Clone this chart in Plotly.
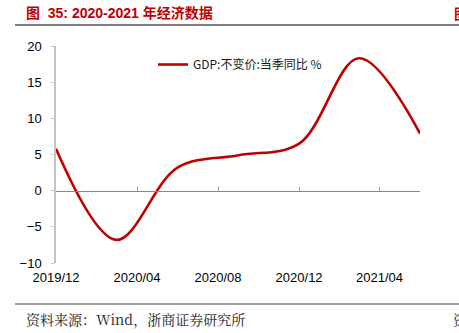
import plotly.graph_objects as go

# Quarterly real GDP growth, y/y (%)
dates = ["2019-12-01", "2020-03-01", "2020-06-01", "2020-09-01",
         "2020-12-01", "2021-03-01", "2021-06-01"]
gdp_yoy = [5.8, -6.8, 3.2, 4.9, 6.5, 18.3, 7.9]

tick_dates = ["2019-12-01", "2020-04-01", "2020-08-01", "2020-12-01", "2021-04-01"]
tick_labels = ["2019/12", "2020/04", "2020/08", "2020/12", "2021/04"]
y_ticks = [-10, -5, 0, 5, 10, 15, 20]

series_name = "GDP:不变价:当季同比 %"
title_text = "图\u00a0\u00a035: 2020-2021 年经济数据"
source_text = "资料来源：Wind，浙商证券研究所"

W, H = 459, 333
L, R, T, B = 56, 39, 46, 70
PW, PH = W - L - R, H - T - B


def px_x(px):
    return (px - L) / PW


def px_y(py):
    return (H - B - py) / PH


RED = "#C00000"
AX_FONT = dict(family="Liberation Sans, Arial, sans-serif", size=13, color="#000000")

fig = go.Figure()
fig.add_trace(go.Scatter(
    x=dates, y=gdp_yoy, mode="lines", name=series_name,
    line=dict(color=RED, width=2.6, shape="spline", smoothing=1.0),
))
# invisible trace on a second x axis that sits on the zero line
fig.add_trace(go.Scatter(x=[dates[0]], y=[None], xaxis="x2", showlegend=False,
                         hoverinfo="skip"))

fig.update_layout(
    width=W, height=H,
    margin=dict(l=L, r=R, t=T, b=B),
    paper_bgcolor="white", plot_bgcolor="white",
    showlegend=True,
    legend=dict(x=px_x(153), y=px_y(50), xanchor="left", yanchor="top",
                bgcolor="rgba(0,0,0,0)",
                font=dict(family="Noto Sans CJK SC, sans-serif", size=12, color="#1a1a1a")),
    xaxis=dict(
        type="date", range=[dates[0], dates[-1]],
        tickvals=tick_dates, ticktext=tick_labels,
        showline=False, showgrid=False, zeroline=False, ticks="",
        tickfont=AX_FONT, ticklabelstandoff=5,
    ),
    xaxis2=dict(
        type="date", range=[dates[0], dates[-1]], overlaying="x",
        anchor="free", position=(0 - y_ticks[0]) / (y_ticks[-1] - y_ticks[0]),
        tickvals=tick_dates[1:], showticklabels=False,
        showline=True, linecolor="#868686", linewidth=1.2,
        ticks="inside", ticklen=4, tickcolor="#a0a0a0", tickwidth=1,
        showgrid=False, zeroline=False,
    ),
    yaxis=dict(
        range=[y_ticks[0], y_ticks[-1]], tickvals=y_ticks,
        showline=True, linecolor="#c4c4c4", linewidth=1.5,
        ticks="outside", ticklen=3, tickcolor="#c4c4c4",
        showgrid=False, zeroline=False,
        tickfont=AX_FONT, ticklabelstandoff=7,
    ),
)

# header and footer rules
fig.add_shape(type="line", xref="paper", yref="paper",
              x0=px_x(15), x1=px_x(459), y0=px_y(25), y1=px_y(25),
              line=dict(color="#808080", width=2))
fig.add_shape(type="line", xref="paper", yref="paper",
              x0=px_x(15), x1=px_x(459), y0=px_y(304), y1=px_y(304),
              line=dict(color="#404040", width=1))

fig.add_annotation(text="<b>" + title_text + "</b>", xref="paper", yref="paper",
                   x=px_x(24), y=px_y(13), xanchor="left", yanchor="middle",
                   showarrow=False,
                   font=dict(family="Liberation Sans, Noto Sans CJK SC, sans-serif",
                             size=14, color=RED))
fig.add_annotation(text="<b>图</b>", xref="paper", yref="paper",
                   x=px_x(452), y=px_y(13), xanchor="left", yanchor="middle",
                   showarrow=False,
                   font=dict(family="Noto Sans CJK SC, sans-serif", size=14, color=RED))
fig.add_annotation(text=source_text, xref="paper", yref="paper",
                   x=px_x(24), y=px_y(319), xanchor="left", yanchor="middle",
                   showarrow=False,
                   font=dict(family="Noto Serif CJK SC, Liberation Serif, serif",
                             size=14, color="#222222"))
fig.add_annotation(text="资", xref="paper", yref="paper",
                   x=px_x(451), y=px_y(319), xanchor="left", yanchor="middle",
                   showarrow=False,
                   font=dict(family="Noto Serif CJK SC, Liberation Serif, serif",
                             size=14, color="#222222"))

fig.write_html("out.html")
